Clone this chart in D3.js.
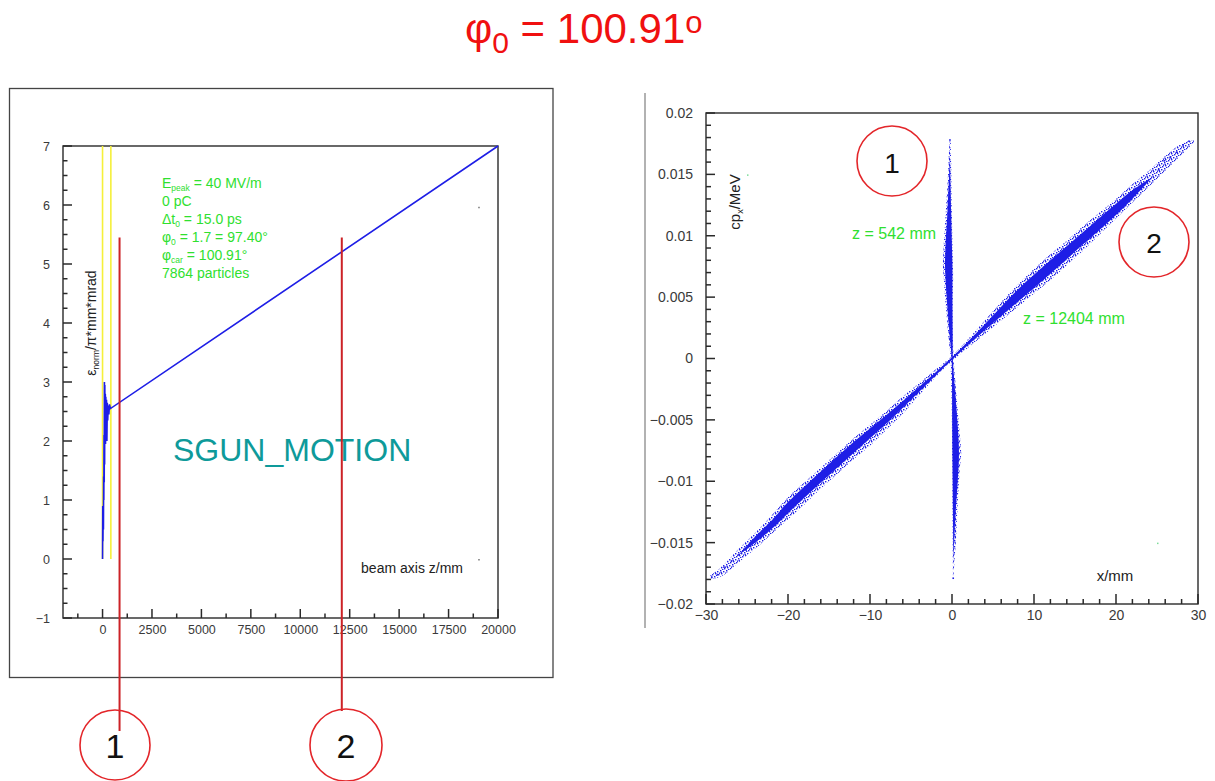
<!DOCTYPE html>
<html>
<head>
<meta charset="utf-8">
<script src="https://cdn.jsdelivr.net/npm/d3@7"></script>
<style>
  body { margin: 0; background: #fff; }
  svg { display: block; }
  text { font-family: "Liberation Sans", Arial, sans-serif; }
</style>
</head>
<body>
<svg id="chart" width="1215" height="781"></svg>
<script>
// ---------- Emittance along the beam axis (left panel) ----------
const emitZ   = [0, 10, 20, 30, 45, 55, 65, 75, 85, 95, 105, 115, 125, 140, 150, 165, 180, 200, 220, 240, 260, 290, 320, 350, 400, 20000];
const emitEps = [0, 0.9, 0.3, 0.85, 0.5, 1.4, 1.0, 2.1, 1.3, 3.0, 1.6, 2.95, 2.0, 2.8, 1.95, 2.75, 2.2, 2.7, 2.0, 2.65, 2.35, 2.6, 2.45, 2.62, 2.55, 7.0];
const cavityEdgesZ = [0, 420];                 // yellow markers
const sliceMarksZ  = [860, 12100];             // red slice markers (z = 542 mm, z = 12404 mm)
const sliceMarkTop = 5.45;
const leftMajorX = [0, 2500, 5000, 7500, 10000, 12500, 15000, 17500, 20000];
const leftMinorX = [-1250, 1250, 3750, 6250, 8750, 11250, 13750, 16250, 18750];
const leftMajorY = [-1, 0, 1, 2, 3, 4, 5, 6, 7];
const leftMinorY = [-0.75, -0.5, -0.25, 0.25, 0.5, 0.75, 1.25, 1.5, 1.75, 2.25, 2.5, 2.75, 3.25, 3.5, 3.75, 4.25, 4.5, 4.75, 5.25, 5.5, 5.75, 6.25, 6.5, 6.75];
const leftInfo = ["E|peak| = 40 MV/m", "0 pC", "Δt|0| = 15.0 ps", "φ|0| = 1.7 = 97.40°", "φ|car| = 100.91°", "7864 particles"];
const leftStrayZ = [19000, 19000], leftStrayEps = [5.97, 0.0];

// ---------- Phase space x – cp_x (right panel) ----------
// slice at z = 542 mm : envelope per cp_x level (outer = sparse halo, inner = dense core)
const s1Cpx       = [0.0177, 0.0160, 0.0148, 0.0120, 0.0093, 0.0075, 0.0066, 0.0050, 0.0039, 0.0015, 0.0000, -0.0010, -0.0034, -0.0062, -0.0077, -0.0090, -0.0118, -0.0146, -0.0165, -0.0178];
const s1OuterLeft = [-0.30, -0.42, -0.50, -0.75, -1.00, -1.10, -1.00, -0.85, -0.70, -0.40, -0.15, -0.15, -0.05, 0.00, 0.00, 0.05, 0.05, 0.08, 0.10, 0.12];
const s1OuterRight= [-0.15, -0.10, -0.08, -0.02, 0.06, 0.12, 0.14, 0.10, 0.08, 0.12, 0.20, 0.30, 0.60, 0.95, 1.12, 0.95, 0.70, 0.50, 0.30, 0.18];
const s1CoreCpx   = [0.0165, 0.0120, 0.0090, 0.0075, 0.0050, 0.0020, 0.0000, -0.0020, -0.0050, -0.0077, -0.0100, -0.0130, -0.0165];
const s1CoreLeft  = [-0.24, -0.55, -0.80, -0.85, -0.65, -0.30, -0.05, 0.00, 0.02, 0.05, 0.08, 0.12, 0.18];
const s1CoreRight = [-0.24, -0.10, 0.00, 0.05, 0.05, 0.08, 0.10, 0.30, 0.65, 0.85, 0.70, 0.40, 0.18];

// slice at z = 12404 mm : envelope per x position
const s2X       = [-29.5, -28, -26, -24, -22, -20, -18, -16, -14, -12, -10, -8, -6, -4, -2, 0, 2, 4, 6, 8, 10, 12, 14, 16, 18, 20, 22, 24, 26, 28, 29.5];
const s2OuterLo = [-0.0180, -0.0177, -0.0166, -0.0155, -0.0143, -0.0131, -0.0119, -0.0106, -0.0094, -0.0082, -0.0071, -0.0058, -0.0045, -0.0030, -0.0015, -0.0002, 0.0009, 0.0020, 0.0031, 0.0042, 0.0053, 0.0064, 0.0076, 0.0088, 0.0101, 0.0114, 0.0127, 0.0140, 0.0153, 0.0166, 0.0176];
const s2OuterHi = [-0.0177, -0.0169, -0.0155, -0.0142, -0.0128, -0.0113, -0.0101, -0.0089, -0.0077, -0.0065, -0.0054, -0.0043, -0.0031, -0.0020, -0.0009, 0.0002, 0.0016, 0.0031, 0.0046, 0.0060, 0.0073, 0.0085, 0.0096, 0.0108, 0.0119, 0.0130, 0.0142, 0.0153, 0.0165, 0.0175, 0.0178];
const s2CoreX   = [-26, -24, -22, -20, -16, -12, -8, -4, 0, 4, 8, 12, 16, 20, 22, 24.5];
const s2CoreLo  = [-0.0160, -0.0150, -0.0139, -0.0126, -0.0101, -0.0077, -0.0053, -0.0027, -0.0001, 0.0023, 0.0046, 0.0069, 0.0093, 0.0117, 0.0130, 0.0148];
const s2CoreHi  = [-0.0160, -0.0145, -0.0132, -0.0117, -0.0092, -0.0068, -0.0046, -0.0023, 0.0001, 0.0028, 0.0056, 0.0080, 0.0103, 0.0126, 0.0137, 0.0148];
// isolated particles at the tails
const tailX   = [28.9, 28.2, 27.4, 26.6, 25.9, 25.2, -29.3, -28.6, -27.8, -26.9, -26.0, -25.1, -0.25, 0.15];
const tailCpx = [0.0177, 0.0174, 0.0168, 0.0164, 0.0161, 0.0154, -0.0178, -0.0176, -0.0170, -0.0165, -0.0160, -0.0156, 0.0178, -0.0179];
const rightStrayX = [-25, 25], rightStrayCpx = [0.015, -0.015];

const rightMajorX = [-30, -20, -10, 0, 10, 20, 30];
const rightMinorX = [-28, -26, -24, -22, -18, -16, -14, -12, -8, -6, -4, -2, 2, 4, 6, 8, 12, 14, 16, 18, 22, 24, 26, 28];
const rightMajorY = [-0.02, -0.015, -0.01, -0.005, 0, 0.005, 0.01, 0.015, 0.02];
const rightMinorY = [-0.019, -0.018, -0.017, -0.016, -0.014, -0.013, -0.012, -0.011, -0.009, -0.008, -0.007, -0.006, -0.004, -0.003, -0.002, -0.001,
                     0.001, 0.002, 0.003, 0.004, 0.006, 0.007, 0.008, 0.009, 0.011, 0.012, 0.013, 0.014, 0.016, 0.017, 0.018, 0.019];

// ---------- drawing ----------
const svg = d3.select("#chart");
const AX = "#2a2a2a";
const BLUE = "#1e1ee6";
const GREEN = "#2fe02f";
const RED = "#e3262a";
const minus = s => String(s).replace("-", "\u2212");

// irregular dot texture for the sparse particle halo
const defs = svg.append("defs");
const pat = defs.append("pattern").attr("id", "speckle").attr("patternUnits", "userSpaceOnUse")
  .attr("width", 6).attr("height", 6);
[[0, 0], [3, 1], [1, 3], [4, 4], [2, 5], [5, 2.5], [0.5, 1.8]].forEach(p =>
  pat.append("rect").attr("x", p[0]).attr("y", p[1]).attr("width", 1.4).attr("height", 1.4).attr("fill", BLUE));

// title
const title = svg.append("text").attr("x", 465).attr("y", 43).attr("fill", "#f01010").attr("font-size", 42);
title.append("tspan").text("φ");
title.append("tspan").attr("font-size", 30).attr("dy", 10).text("0");
title.append("tspan").attr("dy", -10).text(" = 100.91");
title.append("tspan").attr("font-size", 31).attr("dy", -10).text("o");

// frame: tick labels via d3 axes, inward tick marks placed with the same scales
function labelAxis(g, fs) {
  g.select(".domain").remove();
  g.selectAll(".tick line").remove();
  g.selectAll("text").attr("fill", "#3a3a3a").attr("font-size", fs)
    .attr("font-family", "'Liberation Sans', Arial, sans-serif");
}
function drawFrame(xs, ys, xMaj, xMin, yMaj, yMin, fs, xFmt, yFmt, xPad, yPad, majLen, minLen) {
  const [x0, x1] = xs.range(), [y0, y1] = ys.range();   // y0 = bottom
  svg.append("g").attr("transform", `translate(0,${y0})`)
    .call(d3.axisBottom(xs).tickValues(xMaj).tickSize(0).tickPadding(xPad).tickFormat(xFmt)).call(g => labelAxis(g, fs));
  svg.append("g").attr("transform", `translate(${x0},0)`)
    .call(d3.axisLeft(ys).tickValues(yMaj).tickSize(0).tickPadding(yPad).tickFormat(yFmt)).call(g => labelAxis(g, fs));
  const tg = svg.append("g").attr("stroke", AX).attr("stroke-width", 1.5);
  const xt = xMaj.map(v => [v, majLen[0]]).concat(xMin.map(v => [v, minLen[0]]));
  const yt = yMaj.map(v => [v, majLen[1]]).concat(yMin.map(v => [v, minLen[1]]));
  tg.selectAll(".xt").data(xt).join("line").attr("class", "xt")
    .attr("x1", d => xs(d[0])).attr("x2", d => xs(d[0]))
    .attr("y1", y0).attr("y2", d => y0 - d[1]);
  tg.selectAll(".yt").data(yt).join("line").attr("class", "yt")
    .attr("y1", d => ys(d[0])).attr("y2", d => ys(d[0]))
    .attr("x1", x0).attr("x2", d => x0 + d[1]);
  svg.append("rect").attr("x", x0).attr("y", y1).attr("width", x1 - x0).attr("height", y0 - y1)
    .attr("fill", "none").attr("stroke", AX).attr("stroke-width", 1.4);
}

// ===== left panel =====
svg.append("rect").attr("x", 9.5).attr("y", 88.5).attr("width", 543.5).attr("height", 589)
  .attr("fill", "none").attr("stroke", "#444").attr("stroke-width", 1.3);

const xL = d3.scaleLinear([-2000, 20000], [63, 498]);
const yL = d3.scaleLinear([-1, 7], [618, 146]);
drawFrame(xL, yL, leftMajorX, leftMinorX, leftMajorY, leftMinorY, 12.5, d => minus(d), d => minus(d), 7, 13, [9, 9], [4.5, 4.5]);

// cavity markers
svg.selectAll(".cav").data(cavityEdgesZ).join("line").attr("class", "cav")
  .attr("x1", d => xL(d)).attr("x2", d => xL(d)).attr("y1", yL(7)).attr("y2", yL(0))
  .attr("stroke", "#f5f03a").attr("stroke-width", 1.6);

// emittance curve
const emitPts = emitZ.map((z, i) => [z, emitEps[i]]);
svg.append("path").datum(emitPts)
  .attr("d", d3.line().x(d => xL(d[0])).y(d => yL(d[1])))
  .attr("fill", "none").attr("stroke", BLUE).attr("stroke-width", 1.6).attr("stroke-linejoin", "miter");

// stray points
svg.selectAll(".strayL").data(leftStrayZ).join("rect").attr("class", "strayL")
  .attr("x", d => xL(d)).attr("y", (d, i) => yL(leftStrayEps[i])).attr("width", 1.5).attr("height", 1.5).attr("fill", "#777");

// info text
const info = svg.append("text").attr("fill", GREEN).attr("font-size", 14);
leftInfo.forEach((line, i) => {
  const parts = line.split("|");
  info.append("tspan").attr("x", 162).attr("y", 188 + i * 18).text(parts[0]);
  if (parts.length > 1) {
    info.append("tspan").attr("font-size", 8.5).attr("dy", 3).text(parts[1]);
    info.append("tspan").attr("dy", -3).text(parts[2]);
  }
});

svg.append("text").attr("x", 173).attr("y", 461).attr("fill", "#0e9a9a").attr("font-size", 32).text("SGUN_MOTION");
svg.append("text").attr("x", 463).attr("y", 573).attr("text-anchor", "end").attr("fill", "#222").attr("font-size", 14).text("beam axis z/mm");

const yLab = svg.append("text").attr("transform", "translate(96,323) rotate(-90)").attr("text-anchor", "middle")
  .attr("fill", "#222").attr("font-size", 14);
yLab.append("tspan").text("ε");
yLab.append("tspan").attr("font-size", 8.5).attr("dy", 3).text("norm");
yLab.append("tspan").attr("dy", -3).text("/π*mm*mrad");

// slice markers with numbered circles
const circleBottomY = [731, 711];
svg.selectAll(".mark").data(sliceMarksZ).join("line").attr("class", "mark")
  .attr("x1", d => xL(d)).attr("x2", d => xL(d)).attr("y1", yL(sliceMarkTop)).attr("y2", (d, i) => circleBottomY[i])
  .attr("stroke", "#cc2226").attr("stroke-width", 2);
const circ = [{x: 115, y: 745, r: 35, t: "1"}, {x: 346, y: 745, r: 36, t: "2"},
              {x: 892, y: 161, r: 35, t: "1", fs: 28, by: 173}, {x: 1154, y: 242, r: 35, t: "2", fs: 28, by: 253}];
circ.forEach(c => {
  svg.append("circle").attr("cx", c.x).attr("cy", c.y).attr("r", c.r).attr("fill", "none").attr("stroke", RED).attr("stroke-width", 1.6);
  svg.append("text").attr("x", c.x).attr("y", c.by || 758).attr("text-anchor", "middle").attr("font-size", c.fs || 34)
    .attr("fill", "#111").text(c.t);
});

// ===== right panel =====
svg.append("line").attr("x1", 645).attr("x2", 645).attr("y1", 93).attr("y2", 628).attr("stroke", "#999").attr("stroke-width", 1.5);

const xR = d3.scaleLinear([-30, 30], [706, 1198]);
const yR = d3.scaleLinear([-0.02, 0.02], [604, 113]);
const fmtR = d => d === 0 ? "0" : minus(+d.toFixed(3));
drawFrame(xR, yR, rightMajorX, rightMinorX, rightMajorY, rightMinorY, 14, d => minus(d), fmtR, 6, 13, [10, 9], [5, 5]);

// slice 1 (vertical band)
const areaV = d3.area().curve(d3.curveCatmullRom).y(d => yR(d[0])).x0(d => xR(d[1])).x1(d => xR(d[2]));
svg.append("path").datum(s1Cpx.map((c, i) => [c, s1OuterLeft[i], s1OuterRight[i]]))
  .attr("d", areaV).attr("fill", "url(#speckle)");
svg.append("path").datum(s1CoreCpx.map((c, i) => [c, s1CoreLeft[i], s1CoreRight[i]]))
  .attr("d", areaV).attr("fill", BLUE);

// slice 2 (diagonal band)
const areaD = d3.area().curve(d3.curveCatmullRom).x(d => xR(d[0])).y0(d => yR(d[1])).y1(d => yR(d[2]));
svg.append("path").datum(s2X.map((x, i) => [x, s2OuterLo[i], s2OuterHi[i]]))
  .attr("d", areaD).attr("fill", "url(#speckle)");
svg.append("path").datum(s2CoreX.map((x, i) => [x, s2CoreLo[i], s2CoreHi[i]]))
  .attr("d", areaD).attr("fill", BLUE);

svg.selectAll(".tail").data(tailX).join("rect").attr("class", "tail")
  .attr("x", d => xR(d) - 0.8).attr("y", (d, i) => yR(tailCpx[i]) - 0.8).attr("width", 1.6).attr("height", 1.6).attr("fill", BLUE);
svg.selectAll(".strayR").data(rightStrayX).join("rect").attr("class", "strayR")
  .attr("x", d => xR(d)).attr("y", (d, i) => yR(rightStrayCpx[i])).attr("width", 1.5).attr("height", 1.5).attr("fill", "#7ddc9a");

// labels
svg.append("text").attr("x", 1115).attr("y", 581).attr("text-anchor", "middle").attr("fill", "#222").attr("font-size", 15).text("x/mm");
const yLabR = svg.append("text").attr("transform", "translate(740,202) rotate(-90)").attr("text-anchor", "middle")
  .attr("fill", "#222").attr("font-size", 15);
yLabR.append("tspan").text("cp");
yLabR.append("tspan").attr("font-size", 9).attr("dy", 3).text("x");
yLabR.append("tspan").attr("dy", -3).text("/MeV");

svg.append("text").attr("x", 852).attr("y", 239).attr("fill", GREEN).attr("font-size", 16).text("z = 542 mm");
svg.append("text").attr("x", 1023).attr("y", 324).attr("fill", GREEN).attr("font-size", 16).text("z = 12404 mm");
</script>
</body>
</html>
